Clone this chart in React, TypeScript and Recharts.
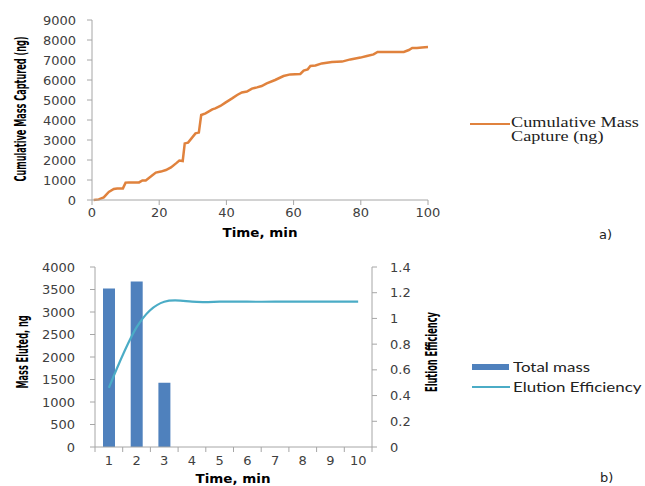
import { LineChart, Line, XAxis, YAxis, ComposedChart, Bar } from 'recharts';

// panel a) cumulative capture
const captureTime = [0.5, 2, 3.5, 5, 6.5, 7.5, 9.2, 10, 11, 14, 15, 16, 17.5, 19, 20.5, 22, 23.5, 25, 26, 27, 27.6, 28.6, 30.8, 31.8, 32.5, 33.8, 35.8, 36.7, 38.2, 39.7, 41.7, 43.2, 44.6, 46.1, 47.6, 49.1, 50.5, 52, 54.5, 57, 59, 62, 63, 64.2, 65, 66.5, 68.4, 71.4, 74.4, 76.9, 79.9, 81.8, 83.8, 85, 92.8, 94.3, 95.3, 96.7, 98.2, 100];
const captureMass = [0, 30, 130, 400, 550, 580, 580, 870, 880, 880, 980, 980, 1170, 1370, 1420, 1500, 1630, 1830, 1970, 1950, 2830, 2870, 3330, 3370, 4250, 4330, 4530, 4580, 4700, 4870, 5080, 5250, 5380, 5420, 5570, 5630, 5700, 5830, 6000, 6200, 6280, 6300, 6470, 6530, 6700, 6730, 6830, 6900, 6920, 7030, 7120, 7200, 7280, 7400, 7400, 7500, 7600, 7600, 7630, 7650];
const timeTicks = [0, 20, 40, 60, 80, 100];
const captureTicks = [0, 1000, 2000, 3000, 4000, 5000, 6000, 7000, 8000, 9000];

// panel b) elution
const slots = [1, 2, 3, 4, 5, 6, 7, 8, 9, 10];
const totalMass = [3520, 3680, 1430, null, null, null, null, null, null, null];
const efficiency = [0.46, 0.93, 1.13, 1.13, 1.13, 1.13, 1.13, 1.13, 1.13, 1.13];
const massTicks = [0, 500, 1000, 1500, 2000, 2500, 3000, 3500, 4000];
const effTicks = [0, 0.2, 0.4, 0.6, 0.8, 1, 1.2, 1.4];

const captureData = captureTime.map((t, i) => ({ t, mass: captureMass[i] }));
const elutionData = slots.map((s, i) => ({ slot: s, mass: totalMass[i], eff: efficiency[i] }));

const AXIS = '#a6a6a6';
const ORANGE = '#e0823d';
const BLUE = '#4f81bd';
const TEAL = '#4bacc6';
const tickFont = { fontFamily: 'DejaVu Sans', fontSize: 13, fill: '#404040' };
const titleFont = { fontFamily: "'DejaVu Sans Condensed', sans-serif", fontWeight: 'bold', fontSize: 15, fill: '#000' };
const timeTitle = { fontFamily: 'DejaVu Sans', fontWeight: 'bold', fontSize: 12, fill: '#000' };

// px/py instead of x/y: Label overwrites x and y when it clones the content
function VTitle({ px, py, len, text }: any) {
  return (
    <text
      transform={`translate(${px},${py}) rotate(-90)`}
      textAnchor="middle"
      dominantBaseline="central"
      textLength={len}
      lengthAdjust="spacingAndGlyphs"
      style={titleFont}
    >
      {text}
    </text>
  );
}

function HTitle({ px, py, text }: any) {
  return (
    <text x={px} y={py} textAnchor="middle" textLength={75} lengthAdjust="spacingAndGlyphs" style={timeTitle}>
      {text}
    </text>
  );
}

// excel style category axis: tick marks sit between categories
const BAND = 277 / 10;
function SlotTick({ x, y, payload, index }: any) {
  return (
    <g>
      <line x1={x - BAND / 2} x2={x - BAND / 2} y1={y - 9} y2={y - 4} stroke={AXIS} />
      {index === slots.length - 1 && (
        <line x1={x + BAND / 2} x2={x + BAND / 2} y1={y - 9} y2={y - 4} stroke={AXIS} />
      )}
      <text x={x} y={y} dy="0.71em" textAnchor="middle" style={tickFont}>
        {payload.value}
      </text>
    </g>
  );
}

const legendText = { transform: 'scaleX(1.3)', transformOrigin: 'left center', display: 'inline-block' };

export default function App() {
  return (
    <div style={{ position: 'absolute', left: 0, top: 0, width: 645, height: 486, background: '#fff', overflow: 'hidden' }}>
      <LineChart width={645} height={245} data={captureData} margin={{ top: 20, right: 217, bottom: 0, left: 0 }}>
        <XAxis
          dataKey="t"
          type="number"
          domain={[0, 100]}
          ticks={timeTicks}
          interval={0}
          stroke={AXIS}
          tickSize={5}
          tickMargin={3}
          height={45}
          tick={tickFont}
          label={<HTitle px={260} py={237} text="Time, min" />}
        />
        <YAxis
          domain={[0, 9000]}
          ticks={captureTicks}
          interval={0}
          stroke={AXIS}
          width={92}
          tickSize={5}
          tickMargin={11}
          tick={tickFont}
          label={<VTitle px={21} py={109} len={145} text="Cumulative Mass Captured (ng)" />}
        />
        <Line dataKey="mass" type="linear" stroke={ORANGE} strokeWidth={2.5} dot={false} isAnimationActive={false} />
      </LineChart>

      <ComposedChart width={645} height={241} data={elutionData} margin={{ top: 22, right: 193, bottom: 0, left: 0 }}>
        <XAxis
          dataKey="slot"
          stroke={AXIS}
          tickLine={false}
          tickSize={5}
          tickMargin={4}
          height={39}
          interval={0}
          tick={<SlotTick />}
          label={<HTitle px={233} py={238} text="Time, min" />}
        />
        <YAxis
          yAxisId="mass"
          domain={[0, 4000]}
          ticks={massTicks}
          interval={0}
          stroke={AXIS}
          width={95}
          tickSize={5}
          tickMargin={15}
          tick={tickFont}
          label={<VTitle px={23} py={107} len={73} text="Mass Eluted, ng" />}
        />
        <YAxis
          yAxisId="eff"
          orientation="right"
          domain={[0, 1.4]}
          ticks={effTicks}
          interval={0}
          stroke={AXIS}
          width={80}
          tickSize={5}
          tickMargin={13}
          tick={tickFont}
          label={<VTitle px={432} py={107} len={80} text="Elution Efficiency" />}
        />
        <Bar yAxisId="mass" dataKey="mass" fill={BLUE} barSize={12} isAnimationActive={false} />
        <Line yAxisId="eff" dataKey="eff" type="natural" stroke={TEAL} strokeWidth={2.2} dot={false} isAnimationActive={false} />
      </ComposedChart>

      <div style={{ position: 'absolute', left: 470, top: 116, fontFamily: "'Liberation Serif', serif", fontSize: 14, lineHeight: '14px', color: '#222' }}>
        <div style={{ position: 'absolute', left: 0, top: 7, width: 40, height: 2, background: ORANGE }} />
        <div style={{ marginLeft: 41, whiteSpace: 'nowrap' }}>
          <span style={legendText}>Cumulative Mass</span><br />
          <span style={legendText}>Capture (ng)</span>
        </div>
      </div>
      <div style={{ position: 'absolute', left: 599, top: 227, fontFamily: 'DejaVu Sans', fontSize: 13, color: '#222' }}>a)</div>

      <div style={{ position: 'absolute', left: 472, top: 358, fontFamily: "Lato, 'Open Sans', sans-serif", fontSize: 13, color: '#222', whiteSpace: 'nowrap' }}>
        <div style={{ display: 'flex', alignItems: 'center', height: 18 }}>
          <div style={{ width: 37, height: 6, background: BLUE, marginRight: 4 }} />
          <span style={legendText}>Total mass</span>
        </div>
        <div style={{ display: 'flex', alignItems: 'center', height: 18, marginTop: 2 }}>
          <div style={{ width: 38, height: 2, background: TEAL, marginRight: 3 }} />
          <span style={legendText}>Elution Efficiency</span>
        </div>
      </div>
      <div style={{ position: 'absolute', left: 600, top: 470, fontFamily: 'DejaVu Sans', fontSize: 13, color: '#222' }}>b)</div>
    </div>
  );
}
